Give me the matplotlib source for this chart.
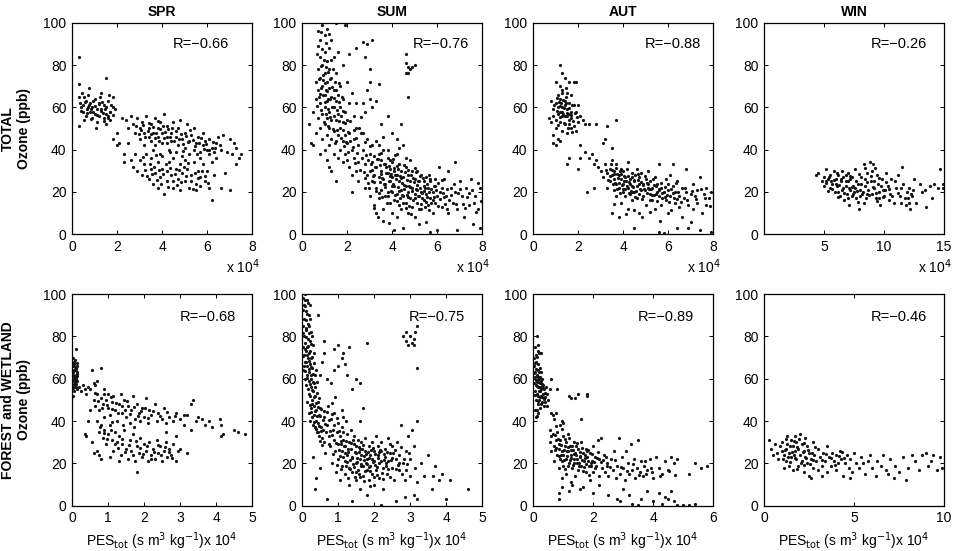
import matplotlib
matplotlib.use("Agg")
import matplotlib.pyplot as plt

plt.rcParams['font.family'] = ['Liberation Sans', 'DejaVu Sans']
plt.rcParams['font.size'] = 10

seasons = ["SPR", "SUM", "AUT", "WIN"]
row_labels = ["TOTAL\nOzone (ppb)", "FOREST and WETLAND\nOzone (ppb)"]
r_top = ["R=\u22120.66", "R=\u22120.76", "R=\u22120.88", "R=\u22120.26"]
r_bot = ["R=\u22120.68", "R=\u22120.75", "R=\u22120.89", "R=\u22120.46"]
xlim_top = [8, 8, 8, 15]
xlim_bot = [5, 5, 6, 10]
xticks_top = [[0, 2, 4, 6, 8], [0, 2, 4, 6, 8], [0, 2, 4, 6, 8], [5, 10, 15]]
xticks_bot = [[0, 1, 2, 3, 4, 5], [0, 1, 2, 3, 4, 5], [0, 2, 4, 6], [0, 5, 10]]
yticks = [0, 20, 40, 60, 80, 100]

# x values in units of 1e4 s m^3 kg^-1, y = ozone (ppb)
spr_tot = [
(0.3,84),(0.3,71),(0.3,51),(0.3,65),(0.35,62),(0.4,60),(0.5,61),(0.5,58),(0.6,63),(0.6,56),(0.7,60),(0.7,66),
(0.8,58),(0.8,62),(0.9,55),(0.9,60),(1.0,64),(1.0,57),(1.1,59),(1.1,53),(1.2,62),(1.2,56),(1.3,67),(1.3,59),
(1.4,55),(1.4,61),(1.5,74),(1.5,57),(1.5,52),(1.6,56),(1.6,63),(1.7,58),(1.7,54),(1.8,60),(1.8,65),(0.45,67),
(0.55,54),(0.75,69),(1.05,50),(1.25,65),(0.65,59),(0.95,58),(1.45,59),(1.65,66),(1.9,59),
(1.8,45),(2.0,42),(2.1,43),(2.0,48),(2.3,38),(2.2,55),
(2.4,54),(2.5,50),(2.6,56),(2.7,52),(2.8,48),(2.9,55),(3.0,50),(3.0,45),(3.1,53),(3.2,48),(3.2,42),(3.3,56),
(3.4,50),(3.4,46),(3.5,52),(3.5,44),(3.6,48),(3.7,55),(3.7,42),(3.8,50),(3.8,46),(3.9,53),(4.0,48),(4.0,43),
(4.1,57),(4.2,46),(4.2,51),(4.3,40),(4.4,48),(4.4,44),(4.5,53),(4.6,46),(4.7,42),(4.7,50),(4.8,54),(4.9,45),
(5.0,48),(5.0,41),(5.1,52),(5.2,44),(5.3,47),(5.4,40),(5.4,50),(5.5,43),(5.6,46),(5.7,39),(5.8,48),(5.8,42),
(5.9,44),(6.0,40),(6.1,38),(6.1,45),(6.2,41),(6.3,39),(6.4,43),(6.5,46),(6.6,40),(6.7,47),(6.9,39),(7.0,45),
(7.1,38),(7.2,43),(7.3,41),(7.4,36),(7.5,38),(7.3,33),(7.0,21),(6.8,29),(6.6,22),
(2.6,35),(2.7,32),(2.8,38),(2.9,30),(3.0,35),(3.1,28),(3.2,33),(3.3,38),(3.4,26),(3.5,31),(3.5,36),(3.6,24),
(3.7,29),(3.8,34),(3.8,22),(3.9,27),(4.0,31),(4.0,37),(4.1,19),(4.2,25),(4.2,30),(4.3,34),(4.4,28),(4.5,22),
(4.5,36),(4.6,31),(4.7,26),(4.8,33),(4.8,21),(4.9,29),(5.0,35),(5.0,25),(5.1,31),(5.2,22),(5.3,28),(5.4,34),
(5.5,24),(5.5,21),(5.6,30),(5.7,27),(5.8,33),(5.9,25),(6.0,30),(6.1,22),(6.2,16),(6.2,34),(6.3,28),(6.4,36),
(5.2,38),(4.6,39),(3.6,40),(2.5,43),(2.3,34),(3.9,38),(4.9,37),(5.7,36),
(0.42,58.5),(0.58,62.5),(0.68,57.2),(0.77,61.3),(0.86,59.4),(0.93,63.1),(1.02,60.7),(1.13,56.4),(1.18,61.8),
(1.27,58.3),(1.36,57.1),(1.42,53.6),(1.53,60.2),(1.58,55.1),(1.67,57.7),(1.74,61.2),(1.83,56.2),(0.52,64.8),
(0.83,54.3),(1.33,62.7),
(2.83,51.2),(2.96,47.6),(3.07,49.3),(3.16,51.8),(3.26,46.2),(3.36,48.7),(3.44,52.8),(3.53,47.3),(3.62,50.6),
(3.67,45.4),(3.74,48.1),(3.83,53.7),(3.86,44.2),(3.93,49.6),(4.04,51.3),(4.07,45.7),(4.13,48.4),(4.23,43.3),
(4.27,49.8),(4.34,46.1),(4.46,50.2),(4.53,43.9),(4.63,48.7),(4.76,45.1),(4.84,47.6),(4.95,42.6),(5.06,46.3),
(5.16,43.4),(5.26,49.2),(5.36,44.6),(5.46,41.7),(5.63,43.1),(5.74,45.4),(5.86,40.3),(5.97,42.6),(6.07,39.6),
(6.26,43.7),(6.36,40.8),(6.56,42.3),
(3.24,30.6),(3.33,27.4),(3.46,33.2),(3.57,28.3),(3.66,31.7),(3.77,25.8),(3.87,30.4),(3.96,23.6),(4.06,28.6),
(4.16,33.3),(4.27,22.4),(4.36,31.2),(4.47,25.4),(4.56,28.7),(4.66,23.2),(4.77,30.4),(4.86,24.6),(4.97,31.9),
(5.07,27.6),(5.17,33.6),(5.28,25.1),(5.37,21.3),(5.47,29.2),(5.58,26.4),(5.68,22.8),(5.78,29.7),(5.92,27.7),
(6.04,24.1),(3.15,36.4),(3.72,37.6),(4.35,38.7),(4.93,39.4),(5.55,37.8),
]

sum_tot = [
(0.3,52),(0.4,43),(0.5,58),(0.5,42),(0.6,72),(0.6,64),(0.6,48),(0.7,78),(0.7,68),(0.7,55),(0.7,96),(0.8,92),
(0.8,84),(0.8,74),(0.8,62),(0.8,50),(0.8,38),(0.9,99),(0.9,80),(0.9,70),(0.9,57),(0.9,45),(1.0,94),(1.0,86),
(1.0,76),(1.0,66),(1.0,60),(1.0,52),(1.0,40),(1.1,97),(1.1,82),(1.1,72),(1.1,63),(1.1,55),(1.1,47),(1.1,35),
(1.2,88),(1.2,78),(1.2,69),(1.2,58),(1.2,50),(1.2,42),(1.3,92),(1.3,74),(1.3,65),(1.3,54),(1.3,45),(1.3,30),
(1.4,84),(1.4,68),(1.4,60),(1.4,49),(1.4,38),(1.5,100),(1.5,76),(1.5,63),(1.5,54),(1.5,44),(1.6,86),(1.6,66),
(1.6,57),(1.6,47),(1.6,36),(1.7,70),(1.7,60),(1.7,50),(1.7,40),(1.8,80),(1.8,64),(1.8,53),(1.8,44),(1.8,34),
(1.9,99),(1.9,58),(1.9,47),(1.9,38),(2.0,72),(2.0,54),(2.0,43),(2.0,35),(2.1,85),(2.1,62),(2.1,48),(2.1,32),
(2.2,67),(2.2,40),(2.2,28),(2.3,56),(2.3,45),(2.3,36),(2.4,88),(2.4,62),(2.4,50),(2.4,30),(2.5,42),(2.5,34),
(2.5,25),
(2.7,91),(2.8,84),(2.9,90),(3.0,78),(3.0,72),(3.1,92),(2.9,68),(3.0,64),(3.1,60),(2.7,62),(2.8,58),(3.3,63),
(3.4,71),(3.5,52),
(2.6,48),(2.7,40),(2.8,33),(2.8,22),(2.9,45),(2.9,28),(3.0,38),(3.0,30),(3.0,18),(3.1,42),(3.1,34),(3.1,25),
(3.2,37),(3.2,28),(3.2,14),(3.3,44),(3.3,32),(3.3,22),(3.4,38),(3.4,27),(3.4,17),(3.5,35),(3.5,30),(3.5,21),
(3.6,40),(3.6,26),(3.6,12),(3.7,33),(3.7,24),(3.7,18),(3.8,36),(3.8,29),(3.8,20),(3.9,31),(3.9,25),(3.9,15),
(4.0,48),(4.0,34),(4.0,27),(4.0,20),(4.0,10),(4.1,30),(4.1,23),(4.1,16),(4.2,38),(4.2,28),(4.2,19),(4.2,8),
(4.3,33),(4.3,25),(4.3,14),(4.4,30),(4.4,21),(4.4,12),(4.5,42),(4.5,27),(4.5,18),(4.5,3),(4.6,32),(4.6,23),
(4.6,15),(4.7,28),(4.7,20),(4.7,10),(4.8,35),(4.8,25),(4.8,17),(4.9,30),(4.9,22),(4.9,13),(5.0,26),(5.0,19),
(5.0,8),(5.1,30),(5.1,21),(5.1,15),(5.2,25),(5.2,18),(5.2,5),(5.3,28),(5.3,20),(5.3,12),(5.4,23),(5.4,16),
(5.5,27),(5.5,19),(5.5,6),(5.6,22),(5.6,14),(5.7,25),(5.7,17),(5.8,20),(5.8,10),(5.9,23),(5.9,15),(6.0,18),
(6.0,2),(6.1,32),(6.2,22),(6.2,13),(6.3,26),(6.4,18),(6.5,30),(6.5,10),(6.6,22),(6.7,15),(6.8,34),(6.8,20),
(6.9,12),(7.0,25),(7.1,18),(7.2,8),(7.3,22),(7.4,14),(7.5,26),(7.6,5),(7.7,18),(7.8,12),(7.9,22),(7.9,3),
(6.9,2),(5.7,1),(4.1,2),(3.3,10),(2.2,20),(1.5,25),(1.2,32),
(4.6,85),(4.6,81),(4.7,79),(4.7,76),(4.8,78),(4.9,79),(5.0,80),(4.6,76),(4.7,65),(4.4,52),(3.8,56),(4.2,45),
(0.74,73.4),(0.76,64.7),(0.83,79.6),(0.84,69.2),(0.86,58.8),(0.87,87.4),(0.93,75.3),(0.94,65.6),(0.96,53.1),
(0.97,82.2),(1.03,71.4),(1.04,62.3),(1.06,56.7),(1.07,79.1),(1.13,67.6),(1.14,76.8),(1.16,59.4),(1.17,51.3),
(1.23,73.2),(1.24,64.1),(1.26,55.2),(1.27,82.4),(1.33,69.7),(1.34,60.3),(1.36,49.6),(1.37,78.2),(1.43,64.4),
(1.44,55.8),(1.46,72.1),(1.47,43.2),(1.53,68.3),(1.54,58.7),(1.56,49.1),(1.63,62.6),(1.64,53.4),(1.66,71.3),
(1.73,55.7),(1.74,45.3),(1.76,64.8),(1.83,49.2),(1.84,58.1),(1.86,41.6),(1.93,52.6),(1.95,43.8),(2.03,48.4),
(2.06,39.1),(2.13,53.7),(2.15,44.2),(2.26,41.3),(2.33,49.4),(2.36,33.7),(2.45,38.2),(0.66,85.2),(0.72,89.1),
(0.86,95.4),(1.08,90.3),(1.22,94.6),(0.95,72.8),(1.05,68.4),(1.15,63.9),(0.78,66.5),(0.68,60.4),
(2.65,36.2),(2.74,29.4),(2.86,37.6),(2.95,24.3),(3.05,33.1),(3.15,27.6),(3.24,31.8),(3.27,20.3),(3.36,35.4),
(3.45,24.8),(3.47,32.6),(3.55,26.7),(3.57,17.6),(3.65,33.3),(3.67,22.5),(3.75,29.1),(3.77,14.8),(3.85,25.3),
(3.87,32.4),(3.95,20.6),(3.97,28.3),(4.05,23.7),(4.07,31.2),(4.15,18.6),(4.17,26.2),(4.25,22.4),(4.27,30.7),
(4.35,17.3),(4.37,27.6),(4.45,24.3),(4.47,14.8),(4.55,21.2),(4.57,29.6),(4.65,18.4),(4.67,25.8),(4.75,22.7),
(4.77,13.6),(4.85,27.9),(4.87,20.3),(4.95,16.4),(4.97,24.8),(5.05,21.6),(5.07,29.3),(5.15,18.2),(5.17,25.4),
(5.25,22.1),(5.27,14.2),(5.35,19.6),(5.37,26.8),(5.45,21.8),(5.47,12.7),(5.55,23.9),(5.57,17.4),(5.65,20.2),
(5.67,26.3),(5.75,14.6),(5.85,22.6),(5.87,17.8),(5.95,20.9),(6.05,24.4),(6.15,16.6),(6.25,19.7),(6.35,14.3),
(6.45,21.4),(6.55,16.2),(6.75,23.6),(6.95,19.3),(7.15,14.4),(7.35,17.8),(7.55,21.1),(7.75,10.4),(7.95,15.6),
(3.42,42.3),(3.62,46.2),(3.82,39.6),(4.12,37.4),(4.32,40.8),(4.62,36.1),(2.58,30.2),(2.78,26.4),(2.98,21.7),
(3.18,12.3),(3.38,8.4),(3.58,6.2),(3.88,5.4),
(3.12,30.4),(3.22,24.6),(3.32,35.7),(3.43,19.4),(3.52,28.4),(3.63,23.8),(3.72,31.6),(3.82,18.3),(3.92,27.4),
(4.02,22.8),(4.03,35.6),(4.13,27.9),(4.22,15.6),(4.23,32.4),(4.33,20.6),(4.42,26.8),(4.43,18.4),(4.52,32.6),
(4.53,23.5),(4.63,12.4),(4.72,30.2),(4.73,17.6),(4.82,22.4),(4.83,9.6),(4.93,26.6),(5.02,17.2),(5.03,31.4),
(5.13,23.2),(5.22,11.8),(5.23,27.4),(5.33,17.1),(5.42,25.3),(5.43,20.4),(5.53,15.2),(5.62,28.2),(5.63,11.3),
(5.73,21.3),(5.82,16.4),(5.93,26.2),(6.02,13.6),(6.12,20.2),(6.22,25.8),(6.32,17.4),(6.42,11.8),(6.62,18.6),
(6.82,14.3),(7.02,21.6),(7.22,12.6),(7.42,19.3),(7.62,14.8),(7.82,24.3),(3.53,38.2),(3.93,35.2),(3.02,41.5),
(2.92,35.2),(2.82,43.6),(2.72,47.8),(2.62,55.3),(2.52,50.4),(2.42,45.6),
]

aut_tot = [
(1.2,80),(1.3,76),(1.0,72),(1.2,70),(1.4,74),(1.6,72),(1.8,72),(1.9,72),(1.3,68),(1.5,67),(1.1,66),(1.7,66),
(0.8,63),(1.0,62),(1.2,64),(1.4,63),(1.6,62),(1.8,61),(2.0,61),(0.9,59),(1.1,60),(1.3,60),(1.5,59),(1.7,58),
(1.9,58),(0.7,55),(0.9,56),(1.1,57),(1.3,56),(1.5,56),(1.7,55),(2.1,56),(0.8,53),(1.0,54),(1.2,53),(1.4,52),
(1.6,52),(1.8,51),(2.0,53),(1.0,50),(1.3,49),(1.5,48),(1.7,50),(1.9,49),(2.2,54),(1.1,45),(0.9,47),(0.9,43),
(1.0,42),(1.2,44),(1.4,61),(1.35,57),(1.6,57),(1.2,58),(2.3,52),(1.45,65),(1.25,62),
(1.5,33),(1.6,36),(2.1,36),(2.0,31),(2.1,42),(2.3,39),(2.5,36),(2.6,38),(2.7,33),(2.8,35),(2.4,20),(2.7,22),
(2.9,32),(3.0,30),(2.5,52),(2.8,52),(3.3,51),(3.7,54),(3.1,43),(3.2,45),(3.5,41),
(3.1,27),(3.2,33),(3.3,29),(3.3,22),(3.4,31),(3.4,25),(3.5,28),(3.5,35),(3.5,10),(3.6,26),(3.6,21),(3.6,30),
(3.7,33),(3.7,24),(3.7,18),(3.8,28),(3.8,22),(3.8,8),(3.9,31),(3.9,26),(3.9,15),(4.0,24),(4.0,20),(4.0,30),
(4.1,27),(4.1,18),(4.2,34),(4.2,22),(4.2,12),(4.3,26),(4.3,19),(4.4,29),(4.4,23),(4.4,16),(4.5,25),(4.5,20),
(4.5,3),(4.6,31),(4.6,17),(4.7,24),(4.7,27),(4.7,10),(4.8,21),(4.8,29),(4.9,18),(4.9,24),(5.0,26),(5.0,14),
(5.1,22),(5.1,30),(5.2,19),(5.2,25),(5.3,16),(5.3,22),(5.4,27),(5.4,12),(5.5,20),(5.5,24),(5.6,18),(5.6,33),
(5.7,22),(5.7,14),(5.8,20),(5.8,0.5),(5.9,26),(5.9,16),(6.0,21),(6.0,10),(6.1,18),(6.1,28),(6.2,23),(6.2,33),
(6.3,15),(6.3,20),(6.4,25),(6.5,13),(6.5,18),(6.6,22),(6.6,8),(6.7,17),(6.8,31),(6.8,20),(6.9,14),(6.9,3),
(7.0,19),(7.1,24),(7.1,12),(7.2,18),(7.3,15),(7.3,21),(7.4,27),(7.4,2),(7.5,10),(7.6,19),(7.7,14),(7.7,22),
(7.8,17),(7.9,1),(7.9,20),(6.4,3),(5.6,1),(7.0,6),
(1.05,58.3),(1.15,62.7),(1.18,55.4),(1.22,60.6),(1.28,57.8),(1.32,63.4),(1.38,59.6),(1.42,55.7),(1.48,61.9),
(1.52,57.4),(1.58,54.2),(1.62,59.8),(1.68,56.6),(1.72,61.3),(1.78,53.6),(1.85,57.2),(1.95,55.3),(1.12,51.6),
(1.36,52.8),(1.55,50.4),(1.75,48.3),(1.27,66.8),(1.47,69.2),(1.08,64.5),(0.95,61.2),
(3.25,30.6),(3.35,25.8),(3.45,33.2),(3.55,23.6),(3.62,28.3),(3.68,31.4),(3.72,21.2),(3.78,26.4),(3.85,29.8),
(3.88,19.6),(3.95,23.3),(4.03,27.7),(4.08,21.6),(4.15,25.1),(4.18,30.8),(4.25,19.4),(4.32,23.8),(4.38,27.3),
(4.42,20.2),(4.48,25.7),(4.55,17.8),(4.62,22.6),(4.68,28.4),(4.72,19.2),(4.78,24.6),(4.85,16.7),(4.92,21.4),
(4.98,27.5),(5.05,19.6),(5.12,23.8),(5.18,16.3),(5.25,21.2),(5.32,26.2),(5.38,18.4),(5.45,22.9),(5.52,15.6),
(5.62,20.7),(5.68,24.3),(5.75,17.3),(5.85,22.3),(5.95,18.6),(6.05,15.4),(6.15,21.6),(6.25,17.2),(6.35,24.1),
(6.45,19.8),(6.58,15.2),(6.75,21.8),(6.85,16.4),(7.05,20.4),(7.25,16.8),(7.45,21.3),(7.65,17.1),(7.85,13.4),
(3.58,14.3),(4.12,9.6),(4.48,11.7),(4.85,8.2),(5.22,10.3),(5.65,6.4),(6.12,11.6),
(3.42,27.6),(3.52,30.2),(3.66,24.1),(3.74,28.6),(3.82,24.3),(3.92,28.4),(3.98,21.6),(4.05,25.4),(4.16,22.8),
(4.22,27.4),(4.28,24.6),(4.36,20.6),(4.46,22.4),(4.52,27.8),(4.58,20.4),(4.66,25.6),(4.76,21.6),(4.88,23.2),
(4.96,20.8),(5.08,24.2),(5.16,21.3),(5.28,18.6),(5.36,23.3),(5.48,19.2),(5.58,21.6),(5.72,19.4),(5.88,17.6),
(6.02,23.6),(6.22,19.4),(6.42,16.6),
]

win_tot = [
(4.3,28),(4.5,29),(4.8,25),(5.0,27),(5.0,23),(5.2,31),(5.3,26),(5.5,22),(5.5,28),(5.7,24),(5.8,30),(5.9,20),
(6.0,26),(6.1,23),(6.2,28),(6.3,18),(6.4,25),(6.5,21),(6.5,30),(6.6,27),(6.7,16),(6.8,23),(6.9,19),(7.0,29),
(7.0,25),(7.1,14),(7.2,21),(7.3,18),(7.3,27),(7.4,23),(7.5,20),(7.6,31),(7.7,17),(7.8,24),(7.9,12),(8.0,21),
(8.1,27),(8.2,19),(8.3,33),(8.4,23),(8.5,17),(8.6,29),(8.7,21),(8.8,34),(8.9,25),(9.0,19),(9.1,33),(9.2,22),
(9.3,17),(9.4,28),(9.5,24),(9.6,20),(9.7,14),(9.8,26),(9.9,21),(10.0,18),(10.2,29),(10.3,23),(10.5,19),
(10.6,26),(10.8,15),(11.0,22),(11.2,28),(11.3,18),(11.5,32),(11.6,24),(11.8,14),(11.9,20),(12.0,17),
(12.1,22),(12.2,12),(12.3,18),(12.5,26),(12.7,15),(13.0,24),(13.2,20),(13.5,13),(13.8,23),(14.0,17),
(14.2,24),(14.5,22),(14.7,31),(14.9,24),(14.9,22),(5.6,25),(6.8,28),(7.6,22),(8.4,26),(9.0,30),(6.2,20),
(7.0,17),(8.0,18),(9.6,17),(10.4,16),(5.2,25),(6.0,24),(6.6,22),(7.2,26),(8.6,19),(9.2,25),(10.1,21),
(11.4,15),(12.4,21),(13.4,21),
(5.15,24.2),(5.45,27.3),(5.65,21.4),(5.85,25.6),(6.05,29.2),(6.25,23.4),(6.45,26.2),(6.65,19.3),(6.85,25.3),
(7.05,21.8),(7.15,27.6),(7.35,22.3),(7.45,19.1),(7.65,25.4),(7.75,20.3),(7.95,28.3),(8.05,23.6),(8.25,20.2),
(8.45,31.4),(8.55,24.7),(8.75,18.6),(8.95,27.4),(9.05,22.3),(9.25,31.3),(9.35,19.6),(9.55,26.8),(9.75,22.7),
(9.95,17.4),(10.15,24.8),(10.45,21.4),(10.65,18.2),(10.95,25.3),(11.15,19.7),(11.45,22.1),(11.75,17.2),
(12.05,14.6),(12.25,19.2),(6.15,17.6),(7.85,15.3),(8.35,14.6),(9.45,15.8),(5.35,20.3),
]

spr_fw = [
(0.02,70),(0.04,66),(0.06,68),(0.08,64),(0.1,62),(0.12,74),(0.02,62),(0.05,60),(0.07,58),(0.09,56),(0.11,60),
(0.13,63),(0.03,57),(0.06,54),(0.08,61),(0.1,65),(0.14,59),(0.04,52),(0.12,56),(0.15,66),(0.01,59),(0.05,64),
(0.09,59),(0.13,55),
(0.2,56),(0.25,54),(0.3,57),(0.35,55),(0.4,53),(0.45,56),(0.5,55),(0.55,64),(0.6,58),(0.65,57),(0.7,59),
(0.8,65),(0.5,45),(0.45,40),(0.4,33),(0.35,34),(0.55,30),(0.7,26),(0.75,24),
(0.6,50),(0.65,47),(0.7,53),(0.75,45),(0.8,51),(0.85,48),(0.9,55),(0.9,42),(0.95,50),(1.0,46),(1.0,53),
(1.05,43),(1.1,49),(1.15,52),(1.2,45),(1.25,40),(1.3,48),(1.35,53),(1.4,44),(1.45,50),(1.5,42),(1.55,47),
(1.6,39),(1.65,45),(1.7,52),(1.75,41),(1.8,48),(1.85,44),(1.9,40),(1.95,46),(2.0,42),(2.05,51),(2.1,39),
(2.15,45),(2.2,43),(2.3,48),(2.35,40),(2.4,44),(2.5,41),(2.55,46),(2.6,39),(2.7,42),(2.8,40),(2.9,44),
(3.0,41),(3.1,43),
(0.7,40),(0.75,35),(0.8,38),(0.85,32),(0.9,36),(0.95,29),(1.0,34),(1.05,38),(1.1,31),(1.15,26),(1.2,35),
(1.25,30),(1.3,33),(1.35,24),(1.4,29),(1.45,36),(1.5,27),(1.55,22),(1.6,31),(1.65,26),(1.7,34),(1.75,21),
(1.8,28),(1.8,16),(1.85,25),(1.9,32),(1.95,23),(2.0,29),(2.05,26),(2.1,21),(2.15,30),(2.2,24),(2.25,27),
(2.3,22),(2.35,31),(2.4,25),(2.45,28),(2.5,21),(2.55,26),(2.6,30),(2.65,23),(2.7,27),(2.75,24),(2.8,29),
(2.9,21),(2.95,26),(3.0,27),(3.2,25),(0.6,25),(0.8,22),(1.05,23),(1.3,21),
(3.2,43),(3.3,48),(3.35,50),(3.45,40),(3.5,42),(3.6,41),(3.7,38),(3.8,40),(3.9,37),(4.1,41),(4.15,38),
(4.2,34),(4.15,33),(4.5,36),(4.6,35),(4.8,34),(3.1,38),(3.3,36),(2.6,35),(2.9,33),
(0.03,63.3),(0.05,67.2),(0.07,61.4),(0.09,65.6),(0.11,57.7),(0.12,64.8),(0.14,61.5),(0.02,55.4),(0.06,57.3),
(0.08,69.1),(0.1,59.8),(0.13,67.6),(0.04,61.1),(0.15,62.4),(0.01,67.3),
(0.63,53.2),(0.72,49.4),(0.82,46.3),(0.88,52.8),(0.97,47.5),(1.08,51.2),(1.12,45.6),(1.22,48.7),(1.28,43.6),
(1.38,47.3),(1.48,45.2),(1.52,49.6),(1.62,43.4),(1.72,46.8),(1.82,42.3),(1.92,44.6),(2.02,46.2),(2.12,41.4),
(2.25,44.6),(2.45,42.6),(2.65,44.3),(2.85,42.2),
(0.78,37.3),(0.88,34.2),(0.98,31.7),(1.08,35.6),(1.18,29.4),(1.28,27.2),(1.38,31.6),(1.48,25.4),(1.58,28.6),
(1.68,23.8),(1.78,30.7),(1.88,27.3),(1.98,24.6),(2.08,28.4),(2.18,22.3),(2.28,25.6),(2.38,28.8),(2.48,24.2),
(2.58,27.6),(2.68,25.3),(2.78,22.6),(1.12,39.6),(1.42,38.3),(1.72,37.4),
]

sum_fw = [
(0.02,98),(0.05,95),(0.08,100),(0.1,92),(0.12,88),(0.15,97),(0.18,90),(0.2,85),(0.22,95),(0.25,82),(0.03,85),
(0.06,80),(0.09,77),(0.12,83),(0.14,75),(0.17,79),(0.2,72),(0.23,78),(0.26,70),(0.3,76),(0.02,75),(0.05,71),
(0.08,68),(0.11,73),(0.14,66),(0.17,70),(0.2,63),(0.23,67),(0.26,60),(0.29,65),(0.32,58),(0.35,62),(0.04,64),
(0.07,60),(0.1,57),(0.13,62),(0.16,55),(0.19,59),(0.22,52),(0.25,56),(0.28,50),(0.31,54),(0.34,47),(0.37,52),
(0.4,45),(0.43,49),(0.46,43),(0.5,46),(0.15,49),(0.18,44),(0.21,40),(0.24,46),(0.27,42),(0.3,38),(0.33,43),
(0.36,37),(0.39,40),(0.42,35),(0.45,39),(0.48,33),(0.52,37),(0.55,32),(0.58,36),(0.5,62),(0.55,68),(0.6,72),
(0.45,90),(0.6,78),(0.3,23),(0.4,13),(0.5,18),(0.35,8),
(0.7,60),(0.8,58),(0.9,74),(1.0,76),(1.1,70),(1.15,72),(1.2,67),(1.3,75),(1.0,66),(0.9,64),(1.25,62),
(1.4,55),(1.5,60),(1.6,58),(1.7,46),(1.8,77),(1.6,40),
(0.6,42),(0.62,30),(0.65,25),(0.7,38),(0.72,47),(0.75,33),(0.78,28),(0.8,41),(0.82,20),(0.85,36),(0.88,31),
(0.9,44),(0.92,26),(0.95,16),(0.98,35),(1.0,39),(1.0,29),(1.0,22),(1.05,33),(1.05,12),(1.1,37),(1.1,26),
(1.1,19),(1.15,31),(1.15,42),(1.2,28),(1.2,21),(1.2,15),(1.25,34),(1.25,24),(1.3,30),(1.3,18),(1.3,10),
(1.35,27),(1.35,36),(1.4,23),(1.4,16),(1.45,29),(1.45,33),(1.5,25),(1.5,20),(1.5,12),(1.55,31),(1.55,17),
(1.6,27),(1.6,22),(1.6,8),(1.65,24),(1.65,30),(1.7,19),(1.7,14),(1.75,26),(1.75,32),(1.8,22),(1.8,17),
(1.8,5),(1.85,28),(1.85,12),(1.9,24),(1.9,19),(1.95,30),(1.95,15),(2.0,26),(2.0,21),(2.0,10),(2.05,33),
(2.05,17),(2.1,24),(2.1,28),(2.15,20),(2.15,13),(2.2,26),(2.2,30),(2.25,18),(2.25,8),(2.3,23),(2.3,27),
(2.35,15),(2.4,21),(2.4,32),(2.45,25),(2.5,18),(2.5,28),(2.55,12),(2.6,22),(2.65,30),(2.7,17),(2.7,24),
(2.75,38),(2.8,20),(2.85,12),(2.9,26),(2.9,17),(2.95,33),(3.0,22),(3.0,14),(3.05,36),(3.1,28),(3.1,5),
(3.15,18),(3.2,40),(3.2,11),(3.3,20),(3.4,14),(3.5,24),(3.6,8),(3.65,14),(3.7,19),(3.8,12),(3.9,15),
(4.0,3),(4.1,12),(4.6,8),(3.2,3),(2.6,2),(2.2,0.5),(1.4,2),(0.7,3),(2.85,4),
(2.8,80),(2.9,78),(2.95,76),(3.0,80),(3.05,77),(3.1,79),(3.1,76),(3.15,82),(3.2,85),(3.2,65),(2.9,82),
(0.03,92.3),(0.06,88.4),(0.09,94.6),(0.11,84.2),(0.14,90.6),(0.16,86.1),(0.19,81.7),(0.21,88.3),(0.24,76.4),
(0.04,81.6),(0.07,74.2),(0.1,79.8),(0.13,71.3),(0.16,75.6),(0.19,68.4),(0.22,73.1),(0.25,65.7),(0.28,70.2),
(0.31,62.4),(0.34,67.3),(0.03,70.6),(0.06,66.2),(0.09,63.5),(0.12,67.8),(0.15,60.3),(0.18,64.6),(0.21,57.3),
(0.24,61.7),(0.27,54.6),(0.3,58.4),(0.33,51.6),(0.36,56.3),(0.39,48.4),(0.42,53.1),(0.45,46.6),(0.48,50.7),
(0.51,42.3),(0.54,45.8),(0.57,40.4),(0.6,44.6),(0.2,52.6),(0.23,47.8),(0.26,44.3),(0.29,48.2),(0.32,39.4),
(0.35,44.6),(0.38,36.2),(0.41,42.3),(0.44,34.6),(0.47,37.8),(0.5,30.4),(0.53,35.2),(0.56,28.6),(0.42,58.4),
(0.38,64.2),(0.32,72.3),(0.28,80.4),(0.17,95.6),(0.07,97.3),
(0.66,34.8),(0.74,29.4),(0.83,33.2),(0.87,24.6),(0.93,29.8),(0.97,19.3),(1.02,26.4),(1.07,30.6),(1.08,17.4),
(1.13,23.2),(1.17,28.4),(1.22,18.6),(1.27,26.7),(1.28,13.2),(1.33,21.4),(1.37,29.6),(1.42,19.7),(1.47,25.4),
(1.48,13.6),(1.53,22.4),(1.57,27.8),(1.58,15.2),(1.63,19.6),(1.67,26.8),(1.72,23.4),(1.73,11.6),(1.77,20.4),
(1.83,25.3),(1.87,18.2),(1.88,9.4),(1.93,22.3),(1.97,27.2),(2.03,19.3),(2.07,14.6),(2.12,22.4),(2.17,26.3),
(2.23,15.6),(2.27,21.7),(2.33,18.6),(2.37,25.2),(2.43,13.4),(2.47,21.6),(2.53,24.8),(2.62,17.3),(2.68,20.4),
(2.78,15.2),(2.92,19.6),(1.12,45.3),(0.92,51.6),(0.83,48.6),(1.22,40.2),
(0.64,38.6),(0.68,44.2),(0.76,40.3),(0.79,35.4),(0.84,43.3),(0.89,38.1),(0.96,41.6),(1.02,35.3),(1.06,23.6),
(1.09,29.4),(1.14,34.6),(1.19,24.8),(1.23,30.4),(1.26,20.6),(1.29,25.6),(1.34,17.4),(1.38,22.6),(1.41,31.2),
(1.44,18.3),(1.49,28.4),(1.51,15.8),(1.54,20.6),(1.59,25.2),(1.62,13.4),(1.64,18.6),(1.69,28.6),(1.71,21.4),
(1.74,16.2),(1.79,24.6),(1.81,19.8),(1.86,22.6),(1.89,16.4),(1.91,26.4),(1.96,20.6),(1.99,13.6),(2.04,24.4),
(2.09,18.4),(2.14,25.6),(2.19,21.2),(2.24,12.4),(2.29,24.3),(2.34,20.2),(2.39,17.2),(2.44,29.3),(2.49,22.4),
(2.58,26.4),(2.66,19.4),(2.74,27.8),(2.84,22.2),(2.96,24.8),
]

aut_fw = [
(0.12,80),(0.08,75),(0.15,73),(0.05,70),(0.2,72),(0.25,72),(0.1,68),(0.18,67),(0.22,65),(0.03,66),(0.07,63),
(0.12,62),(0.16,61),(0.2,60),(0.26,63),(0.3,60),(0.05,58),(0.1,57),(0.14,59),(0.18,56),(0.22,58),(0.28,56),
(0.33,57),(0.38,55),(0.42,56),(0.08,54),(0.13,53),(0.17,52),(0.23,54),(0.27,52),(0.32,53),(0.37,51),
(0.45,53),(0.1,50),(0.15,48),(0.2,50),(0.25,48),(0.3,49),(0.35,47),(0.4,49),(0.45,47),(0.12,45),(0.18,44),
(0.1,42),(0.22,46),(0.5,50),(0.55,55),(0.6,60),(0.08,61),(0.2,56),(0.15,64),(0.28,59),
(0.6,44),(0.65,43),(0.7,41),(0.75,44),(0.8,55),(0.95,40),(0.55,36),(0.6,33),(0.9,38),(1.0,39),(1.2,52),
(1.25,51),(1.4,51),(1.5,53),(1.8,52),(1.8,53),(1.6,41),
(0.55,30),(0.6,26),(0.65,34),(0.7,28),(0.7,21),(0.75,31),(0.8,24),(0.8,35),(0.85,27),(0.85,18),(0.9,31),
(0.9,22),(0.95,26),(0.95,13),(1.0,33),(1.0,24),(1.0,19),(1.05,28),(1.1,22),(1.1,30),(1.1,15),(1.15,26),
(1.2,20),(1.2,32),(1.25,24),(1.25,11),(1.3,28),(1.3,18),(1.35,22),(1.35,30),(1.4,25),(1.4,14),(1.45,20),
(1.5,27),(1.5,17),(1.55,23),(1.6,30),(1.6,19),(1.65,25),(1.65,9),(1.7,21),(1.75,27),(1.75,16),(1.8,23),
(1.85,19),(1.9,25),(1.9,12),(1.95,21),(2.0,28),(2.0,16),(2.05,23),(2.1,19),(2.15,31),(2.2,22),(2.2,14),
(2.25,32),(2.3,18),(2.35,24),(2.4,16),(2.45,20),(2.5,14),(0.85,6),(0.85,3),(0.95,9),(1.3,10),(1.55,8),
(2.6,22),(2.65,17),(2.7,26),(2.75,13),(2.8,19),(2.85,32),(2.9,15),(2.95,23),(3.0,18),(3.05,12),(3.1,26),
(3.15,20),(3.2,15),(3.25,29),(3.3,17),(3.35,22),(3.4,13),(3.45,18),(3.5,31),(3.55,16),(3.6,21),(3.65,14),
(3.7,19),(3.75,15),(3.8,17),(3.9,22),(3.95,16),(4.0,13),(4.1,23),(4.2,18),(4.3,15),(4.4,21),(4.5,17),
(4.6,23),(4.7,20),(4.8,22),(5.2,15),(5.4,20),(5.6,18),(5.8,19),
(2.5,5),(2.8,3),(2.9,2),(3.0,8),(3.2,5),(3.3,1),(3.5,0.5),(3.6,3),(3.8,7),(4.0,2),(4.2,6),(4.3,1),(4.4,4),
(4.5,3),(4.6,7),(4.7,2),(4.8,0.5),(5.0,0.5),(5.2,0.5),(5.4,1),(2.2,10),(2.0,6),(1.2,7),
(0.04,62.6),(0.06,67.4),(0.09,59.2),(0.11,64.8),(0.13,56.6),(0.14,70.3),(0.16,58.4),(0.19,63.2),(0.21,54.4),
(0.23,60.6),(0.26,55.2),(0.29,57.6),(0.31,51.4),(0.34,55.6),(0.36,50.2),(0.39,53.3),(0.07,52.4),(0.12,58.6),
(0.17,49.4),(0.24,51.6),(0.41,51.2),(0.09,71.3),(0.18,76.1),(0.06,45.3),(0.14,42.4),
(0.72,33.6),(0.78,27.4),(0.83,31.3),(0.88,23.6),(0.92,28.6),(0.98,21.3),(1.03,26.4),(1.07,31.6),(1.08,17.4),
(1.13,23.6),(1.17,27.8),(1.22,21.6),(1.27,26.3),(1.32,19.4),(1.37,24.6),(1.42,28.4),(1.47,22.3),(1.52,18.6),
(1.57,25.2),(1.62,21.4),(1.67,16.3),(1.72,23.8),(1.77,19.6),(1.82,26.4),(1.87,14.3),(1.92,20.4),(1.97,24.3),
(2.07,17.6),(2.12,22.4),(2.27,20.6),(2.42,23.2),(2.58,18.4),(2.72,21.6),(2.92,18.2),(3.12,16.4),(3.32,19.8),
(3.52,14.6),(3.72,21.3),(3.92,17.8),(4.22,14.2),(4.52,16.4),(4.72,14.6),(0.97,36.2),(1.18,33.8),(0.77,37.6),
(0.74,26.3),(0.86,29.4),(0.94,24.2),(1.04,21.4),(1.12,25.8),(1.16,18.7),(1.24,28.3),(1.28,22.6),(1.34,26.2),
(1.38,20.4),(1.44,24.2),(1.48,29.6),(1.54,20.3),(1.58,23.6),(1.64,27.4),(1.69,18.2),(1.74,22.4),(1.79,25.8),
(1.84,21.2),(1.94,18.6),(2.04,20.6),(2.18,25.4),(2.32,21.6),(2.48,18.6),
]

win_fw = [
(0.3,31),(0.4,27),(0.5,24),(0.6,29),(0.7,25),(0.8,22),(0.9,28),(1.0,26),(1.0,30),(1.1,24),(1.2,27),(1.2,21),
(1.3,33),(1.3,29),(1.4,25),(1.4,19),(1.5,31),(1.5,23),(1.6,28),(1.6,17),(1.7,26),(1.7,33),(1.8,22),(1.8,30),
(1.9,19),(1.9,27),(2.0,34),(2.0,24),(2.1,21),(2.1,29),(2.2,16),(2.2,26),(2.3,32),(2.3,23),(2.4,20),(2.4,28),
(2.5,25),(2.5,14),(2.6,22),(2.7,30),(2.7,18),(2.8,24),(2.9,21),(3.0,27),(3.0,17),(3.1,23),(3.2,19),(3.3,25),
(3.4,21),(3.5,28),(3.5,16),(3.6,23),(3.7,19),(3.8,25),(3.9,21),(4.0,24),(4.0,17),(4.1,20),(4.2,26),(4.3,22),
(4.4,14),(4.5,20),(4.6,24),(4.7,18),(4.8,22),(4.9,16),(5.0,25),(5.1,20),(5.3,18),(5.4,23),(5.6,15),(5.8,21),
(5.9,24),(6.0,18),(6.2,14),(6.3,21),(6.5,19),(6.6,24),(6.8,17),(7.0,22),(7.2,13),(7.3,19),(7.5,16),(7.7,23),
(7.9,12),(8.0,18),(8.2,24),(8.4,21),(8.6,17),(8.8,24),(9.0,25),(9.1,19),(9.3,21),(9.4,24),(9.6,17),(9.8,23),
(9.9,18),(2.6,13),(1.1,18),(3.2,14),(4.8,13),(6.9,15),(5.5,20),
(1.15,26.4),(1.25,31.3),(1.35,23.2),(1.45,28.3),(1.55,25.6),(1.65,30.4),(1.75,22.4),(1.85,27.6),(1.95,31.6),
(2.05,20.4),(2.15,25.2),(2.25,29.6),(2.35,22.6),(2.45,26.4),(2.55,19.6),(2.65,24.8),(2.75,21.4),(1.05,22.1),
(1.45,20.6),(1.85,17.3),(2.25,19.2),(1.65,23.8),(3.45,24.6),(3.75,22.6),(4.15,23.4),(4.45,22.6),(3.25,21.8),
(3.95,19.4),(4.35,25.3),(2.85,27.6),
]

top_data = [spr_tot, sum_tot, aut_tot, win_tot]
bot_data = [spr_fw, sum_fw, aut_fw, win_fw]

fig = plt.figure(figsize=(9.54, 5.51), dpi=100)
lefts = [0.0755, 0.3166, 0.5587, 0.8008]
bottoms = [0.5748, 0.0822]
w, h = 0.1887, 0.384
r_x_top = [0.717, 0.77, 0.776, 0.75]
r_x_bot = [0.754, 0.75, 0.736, 0.75]

xlabel = r"PES$_{\rm tot}$ (s m$^3$ kg$^{-1}$)x 10$^4$"

for row in range(2):
    for col in range(4):
        ax = fig.add_axes([lefts[col], bottoms[row], w, h])
        pts = (top_data if row == 0 else bot_data)[col]
        xs = [p[0] for p in pts]
        ys = [p[1] for p in pts]
        ax.plot(xs, ys, 'o', ms=2.3, mew=0, color='#141414', clip_on=True)
        ax.set_ylim(0, 100)
        ax.set_yticks(yticks)
        if row == 0:
            ax.set_xlim(0, xlim_top[col])
            ax.set_xticks(xticks_top[col])
            ax.set_title(seasons[col], fontweight='bold', fontsize=10, pad=5)
            ax.text(r_x_top[col], 0.9, r_top[col], transform=ax.transAxes,
                    ha='center', va='center', fontsize=10.5)
            ax.text(1.045, -0.155, r"x 10$^4$", transform=ax.transAxes,
                    ha='right', va='center', fontsize=10)
        else:
            ax.set_xlim(0, xlim_bot[col])
            ax.set_xticks(xticks_bot[col])
            ax.text(r_x_bot[col], 0.893, r_bot[col], transform=ax.transAxes,
                    ha='center', va='center', fontsize=10.5)
            ax.set_xlabel(xlabel, fontsize=10, labelpad=4)
        ax.tick_params(direction='in', top=True, right=True, length=3,
                       width=0.7, labelsize=10, pad=4)
        for s in ax.spines.values():
            s.set_linewidth(0.9)

fig.text(0.0168, 0.5748 + h / 2, row_labels[0], rotation=90, ha='center',
         va='center', fontweight='bold', fontsize=10, multialignment='center')
fig.text(0.0168, 0.0822 + h / 2, row_labels[1], rotation=90, ha='center',
         va='center', fontweight='bold', fontsize=10, multialignment='center')

fig.savefig("out.png", dpi=100)
